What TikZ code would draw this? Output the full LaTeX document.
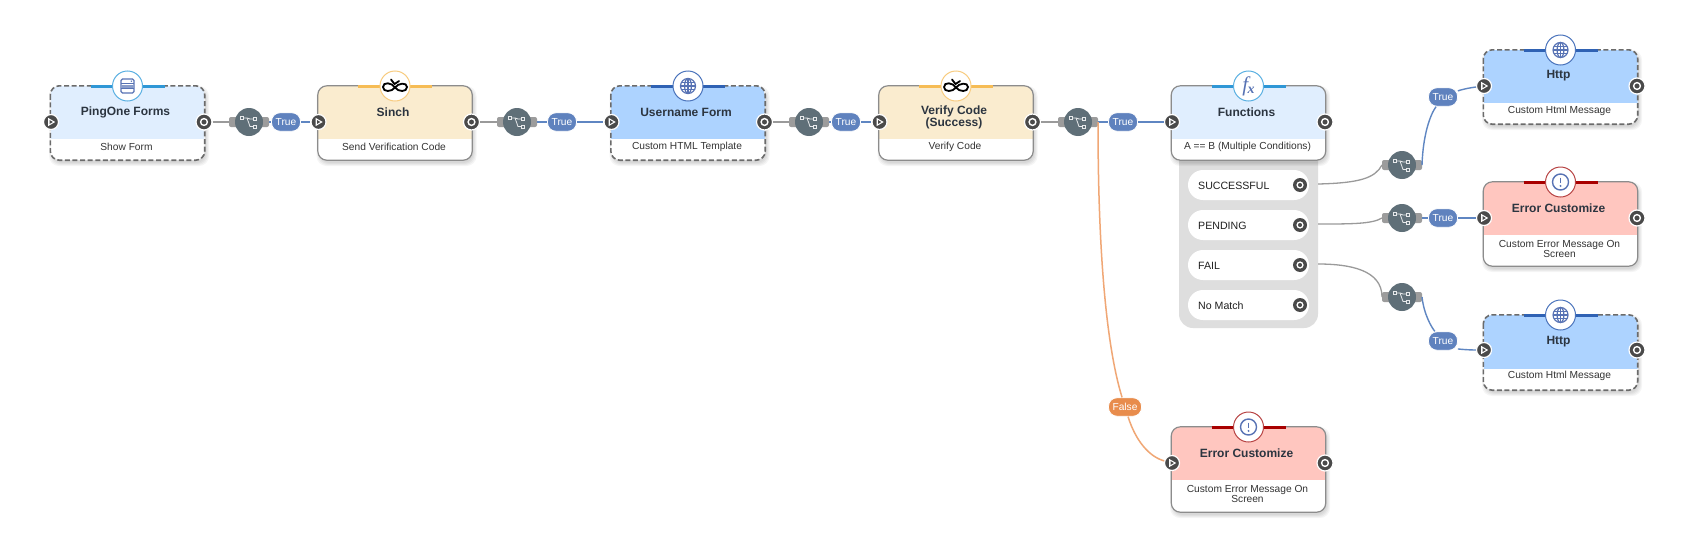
\documentclass[tikz,border=0pt]{standalone}
\usepackage{fontspec}
\setmainfont{Liberation Sans}
\newfontfamily\fxfont{Liberation Serif}
\definecolor{cA}{HTML}{E0EEFE}
\definecolor{cB}{HTML}{ADD3FF}
\definecolor{cC}{HTML}{FAECCF}
\definecolor{cD}{HTML}{FFC6BF}
\definecolor{accA}{HTML}{2F97D6}
\definecolor{accB}{HTML}{2F62B4}
\definecolor{accC}{HTML}{F6BC55}
\definecolor{accD}{HTML}{A80000}
\definecolor{ringA}{HTML}{5BB0E2}
\definecolor{ringB}{HTML}{4B74BC}
\definecolor{ringC}{HTML}{F8CC80}
\definecolor{ringD}{HTML}{B84444}
\definecolor{iconblue}{HTML}{5873B4}
\definecolor{routerc}{HTML}{5F6F78}
\definecolor{stubc}{HTML}{9C9C9C}
\definecolor{linkb}{HTML}{5F86C2}
\definecolor{linkg}{HTML}{9A9A9A}
\definecolor{linko}{HTML}{F0A775}
\definecolor{pillb}{HTML}{5F82BE}
\definecolor{pillo}{HTML}{E88C4C}
\definecolor{darkport}{HTML}{4A4A4A}
\definecolor{panelc}{HTML}{DEDEDE}
\definecolor{titlec}{HTML}{2C3540}
\tikzset{
  x=1pt,y=-1pt,
  cardbase/.style={rectangle,rounded corners=9pt,minimum width=154pt,inner sep=0pt,fill=white},
  solidedge/.style={draw=black!45,line width=1.2pt,rounded corners=9pt},
  dashedge/.style={draw=black!58,line width=1.6pt,rounded corners=9pt,dash pattern=on 5pt off 2.6pt},
  cardtitle/.style={font=\fontsize{12}{12}\selectfont\bfseries,text=titlec,align=center,inner sep=0pt,xshift=-2pt},
  cardsub/.style={font=\fontsize{10.2}{10}\selectfont,text=black!80,align=center,inner sep=0pt,xshift=-1pt},
  iconring/.style={circle,fill=white,line width=1pt,minimum size=30pt,inner sep=0pt},
  portin/.style={circle,fill=darkport,draw=white,line width=1.2pt,minimum size=15pt,inner sep=0pt},
  portout/.style={circle,fill=darkport,draw=white,line width=1.2pt,minimum size=16pt,inner sep=0pt},
  routernode/.style={circle,fill=routerc,minimum size=28pt,inner sep=0pt},
  pillnode/.style={rectangle,rounded corners=8.5pt,draw=white,line width=.8pt,minimum height=18.5pt,inner sep=0pt,text=white,font=\fontsize{10.2}{10}\selectfont},
  truepill/.style={pillnode,fill=pillb,minimum width=29pt},
  falsepill/.style={pillnode,fill=pillo,minimum width=33pt},
  bluelink/.style={draw=linkb,line width=1.4pt},
  greylink/.style={draw=linkg,line width=1.3pt},
  orangelink/.style={draw=linko,line width=1.5pt},
  optionpill/.style={rectangle,rounded corners=15pt,fill=white,minimum width=121pt,minimum height=30pt,inner sep=0pt},
  optiontext/.style={font=\fontsize{10.6}{10}\selectfont,text=black!88,anchor=west,inner sep=0pt},
}
% #1 name, #2 centre x, #3 top, #4 divider, #5 bottom, #6 kind letter, #7 edge style, #8 icon, #9 port y
\newcommand{\card}[9]{%
  \foreach \sh in {0,1,2,3}{
    \fill[black,opacity=.04,rounded corners=10pt] (#2-77-\sh+1.5,#3+3-\sh) rectangle (#2+77+\sh+1.5,#5+3+\sh);
  }
  \node[cardbase,minimum height=#5pt-#3pt] (#1) at (#2,{(#3+#5)/2}) {};
  \begin{scope}
    \clip[rounded corners=9pt] (#2-77,#3) rectangle (#2+77,#5);
    \fill[c#6] (#2-77,#3) rectangle (#2+77,#4);
  \end{scope}
  \draw[#7] (#1.north west) rectangle (#1.south east);
  \draw[acc#6,line width=3pt] (#2-37,#3) -- (#2+37,#3);
  \node[iconring,draw=ring#6] (#1i) at (#2,#3) {};
  \begin{scope}[shift={(#2,#3)}]#8\end{scope}
  \node[portin] (#1in) at (#2-76.5,#9) {};
  \fill[white] (#2-76.5-3,#9-4.2) -- (#2-76.5+4.2,#9) -- (#2-76.5-3,#9+4.2) -- cycle;
  \fill[darkport] (#2-76.5-1.5,#9-2) -- (#2-76.5+1.8,#9) -- (#2-76.5-1.5,#9+2) -- cycle;
  \node[portout] (#1out) at (#2+76.5,#9) {};
  \draw[white,line width=1.4pt] (#2+76.5,#9) circle (3.4);
}
\newcommand{\iconform}{\begin{scope}[iconblue,line width=1.3pt]
  \draw[rounded corners=1.5pt] (-6.5,-7) rectangle (6.5,7);
  \fill[iconblue!70] (-6.5,-1) rectangle (6.5,2);
  \draw (-6.5,-2.4) -- (6.5,-2.4); \draw (-6.5,2.8) -- (6.5,2.8);
  \fill (3.8,-4.8) circle (.8);
\end{scope}}
\newcommand{\iconsinch}{\begin{scope}[black,line width=1.8pt,line cap=round]
  \draw (0,1.5) .. controls (-3,-3.5) and (-12,-4.5) .. (-12,1) .. controls (-12,6.5) and (-3,6) .. (0,1.5)
        .. controls (3,-3) and (12,-4) .. (12,1) .. controls (12,6.5) and (3,6) .. (0,1.5);
  \draw (-4,-6.5) -- (-.5,-2) -- (4,-5);
\end{scope}}
\newcommand{\iconglobe}{\begin{scope}[iconblue,line width=1.2pt]
  \draw (0,0) circle (7.5);
  \draw (0,0) ellipse (3.4 and 7.5);
  \draw (0,-7.5) -- (0,7.5);
  \draw (-7.5,0) -- (7.5,0);
  \draw (-6.5,-3.6) -- (6.5,-3.6); \draw (-6.5,3.6) -- (6.5,3.6);
\end{scope}}
\newcommand{\iconalert}{\begin{scope}[iconblue]
  \draw[line width=1.4pt] (0,0) circle (8);
  \draw[line width=1.9pt] (0,-4.5) -- (0,1);
  \fill (0,3.9) circle (1.1);
\end{scope}}
\newcommand{\iconfx}{\node[text=iconblue,inner sep=0pt] (fxmark) at (0,0) {\fxfont\fontsize{21}{21}\selectfont\itshape f\kern-.5pt\raisebox{-2pt}{\fontsize{14}{14}\selectfont\bfseries x}};}
% #1 name, #2 x, #3 y
\newcommand{\router}[3]{%
  \fill[stubc,rounded corners=2pt] (#2-20,#3-5) rectangle (#2+20,#3+5);
  \coordinate (#1L) at (#2-20,#3);
  \coordinate (#1R) at (#2+20,#3);
  \node[routernode] (#1) at (#2,#3) {};
  \begin{scope}[shift={(#2,#3)},white!85!routerc,line width=.8pt]
    \draw (-6,-4) -- (-2,-4) -- (1,-3) -- (4.5,-3);
    \draw (-2,-4) -- (1,4.5) -- (4.5,4.5);
    \draw[fill=routerc] (-8.5,-5.5) rectangle (-5.5,-2.5);
    \draw[fill=routerc] (4.5,-4.5) rectangle (7.5,-1.5);
    \draw[fill=routerc] (4.5,3) rectangle (7.5,6);
  \end{scope}
}
\begin{document}
\begin{tikzpicture}
\useasboundingbox[fill=white] (0,0) rectangle (1686,549);
% options panel
\fill[panelc,rounded corners=14pt] (1179,140) rectangle (1318,328);
\coordinate (sedge) at (1318,184);
\coordinate (pedge) at (1318,224);
\coordinate (fedge) at (1318,264);
% cards
\card{c1}{127.5}{86}{139}{160}{A}{dashedge}{\iconform}{122}
\node[cardtitle] (c1t) at (127.5,112.5) {PingOne Forms};
\node[cardsub] (c1s) at (127.5,147) {Show Form};
\card{c2}{395}{86}{139}{160}{C}{solidedge}{\iconsinch}{122}
\node[cardtitle] (c2t) at (395,112.5) {Sinch};
\node[cardsub] (c2s) at (395,147) {Send Verification Code};
\card{c3}{688}{86}{139}{160}{B}{dashedge}{\iconglobe}{122}
\node[cardtitle] (c3t) at (688,112.5) {Username Form};
\node[cardsub] (c3s) at (688,147) {Custom HTML Template};
\card{c4}{956}{86}{139}{160}{C}{solidedge}{\iconsinch}{122}
\node[cardtitle] (c4t) at (956,117) {Verify Code\\(Success)};
\node[cardsub] (c4s) at (956,147) {Verify Code};
\card{c5}{1248.5}{86}{139}{160}{A}{solidedge}{\iconfx}{122}
\node[cardtitle] (c5t) at (1248.5,112.5) {Functions};
\node[cardsub] (c5s) at (1248.5,147) {A == B (Multiple Conditions)};
\card{c6}{1560.5}{50}{103}{124}{B}{dashedge}{\iconglobe}{86}
\node[cardtitle] (c6t) at (1560.5,76) {Http};
\node[cardsub] (c6s) at (1560.5,111) {Custom Html Message};
\card{c7}{1560.5}{182}{235}{266}{D}{solidedge}{\iconalert}{218}
\node[cardtitle] (c7t) at (1560.5,208) {Error Customize};
\node[cardsub] (c7s) at (1560.5,248.5) {Custom Error Message On\\Screen};
\card{c8}{1560.5}{315}{369}{390}{B}{dashedge}{\iconglobe}{350}
\node[cardtitle] (c8t) at (1560.5,341.5) {Http};
\node[cardsub] (c8s) at (1560.5,376) {Custom Html Message};
\card{c9}{1248.5}{427}{480}{512}{D}{solidedge}{\iconalert}{463}
\node[cardtitle] (c9t) at (1248.5,453) {Error Customize};
\node[cardsub] (c9s) at (1248.5,493.5) {Custom Error Message On\\Screen};
% option pills
\foreach \nm/\yy/\lb in {o1/185/SUCCESSFUL,o2/225/PENDING,o3/265/FAIL,o4/305/No Match}{
  \node[optionpill] (\nm) at (1248.5,\yy) {};
  \node[optiontext] (\nm t) at (1198,\yy+0.8) {\lb};
  \node[circle,fill=darkport,minimum size=14pt,inner sep=0pt] (\nm p) at (1300,\yy) {};
  \draw[white,line width=1.3pt] (1300,\yy) circle (2.9);
}
% routers
\router{r1}{249}{122}
\router{r2}{517}{122}
\router{r3}{809}{122}
\router{r4}{1078}{122}
\router{r5}{1402}{165}
\router{r6}{1402}{218}
\router{r7}{1402}{297}
% pills
\node[truepill] (p1) at (286,122) {True};
\node[truepill] (p2) at (562,122) {True};
\node[truepill] (p3) at (846,122) {True};
\node[truepill] (p4) at (1123,122) {True};
\node[truepill] (p5) at (1443,97) {True};
\node[truepill] (p6) at (1443,218) {True};
\node[truepill] (p7) at (1443,341) {True};
\node[falsepill] (pf) at (1125,407) {False};
% connectors
\draw[greylink] (c1out) -- (r1L);
\draw[greylink] (c2out) -- (r2L);
\draw[greylink] (c3out) -- (r3L);
\draw[greylink] (c4out) -- (r4L);
\draw[bluelink] (r1R) -- (p1);
\draw[bluelink] (p1) -- (c2in);
\draw[bluelink] (r2R) -- (p2);
\draw[bluelink] (p2) -- (c3in);
\draw[bluelink] (r3R) -- (p3);
\draw[bluelink] (p3) -- (c4in);
\draw[bluelink] (r4R) -- (p4);
\draw[bluelink] (p4) -- (c5in);
\draw[greylink] (sedge) .. controls (1360,183) and (1375,178) .. (r5L);
\draw[greylink] (pedge) .. controls (1352,224) and (1372,224) .. (r6L);
\draw[greylink] (fedge) .. controls (1350,264) and (1382,270) .. (r7L);
\draw[bluelink] (r5R) .. controls (1423,135) and (1430,115) .. (p5);
\draw[bluelink] (p5) .. controls (1460,90) and (1468,88) .. (c6in);
\draw[bluelink] (r6R) -- (p6);
\draw[bluelink] (p6) -- (c7in);
\draw[bluelink] (r7R) .. controls (1424,315) and (1432,328) .. (p7);
\draw[bluelink] (p7) .. controls (1458,349) and (1468,350) .. (c8in);
\draw[orangelink] (r4R) .. controls (1098,250) and (1106,345) .. (pf);
\draw[orangelink] (pf) .. controls (1136,442) and (1150,457) .. (c9in);
\end{tikzpicture}
\end{document}
